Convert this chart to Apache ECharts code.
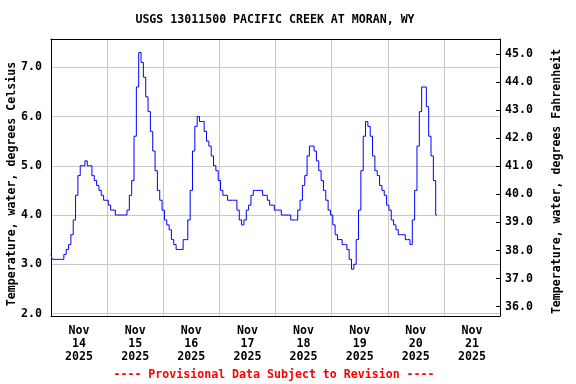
<!DOCTYPE html>
<html>
<head>
<meta charset="utf-8">
<script src="https://cdn.jsdelivr.net/npm/echarts@6/dist/echarts.min.js"></script>
<style>
  html, body { margin: 0; padding: 0; background: #fff; }
  #chart { width: 576px; height: 384px; }
</style>
</head>
<body>
<div id="chart"></div>
<script>
// ---- Data ----
const titleText = 'USGS 13011500 PACIFIC CREEK AT MORAN, WY';
const footerText = '---- Provisional Data Subject to Revision ----';
const leftAxisName = 'Temperature, water, degrees Celsius';
const rightAxisName = 'Temperature, water, degrees Fahrenheit';

const startTime = '2025-11-14T00:00:00Z';   // first reading
const endTime = '2025-11-22T00:00:00Z';     // x axis end
const stepHours = 1;                        // spacing of readings

// hourly water temperature, degrees Celsius
const tempC = [
  3.2, 3.1, 3.1, 3.1, 3.1, 3.1, 3.2, 3.3, 3.4, 3.6, 3.9, 4.4,
  4.8, 5.0, 5.0, 5.1, 5.0, 5.0, 4.8, 4.7, 4.6, 4.5, 4.4, 4.3,
  4.3, 4.2, 4.1, 4.1, 4.0, 4.0, 4.0, 4.0, 4.0, 4.1, 4.4, 4.7,
  5.6, 6.6, 7.3, 7.1, 6.8, 6.4, 6.1, 5.7, 5.3, 4.9, 4.5, 4.3,
  4.1, 3.9, 3.8, 3.7, 3.5, 3.4, 3.3, 3.3, 3.3, 3.5, 3.5, 3.9,
  4.5, 5.3, 5.8, 6.0, 5.9, 5.9, 5.7, 5.5, 5.4, 5.2, 5.0, 4.9,
  4.7, 4.5, 4.4, 4.4, 4.3, 4.3, 4.3, 4.3, 4.1, 3.9, 3.8, 3.9,
  4.1, 4.2, 4.4, 4.5, 4.5, 4.5, 4.5, 4.4, 4.4, 4.3, 4.2, 4.2,
  4.1, 4.1, 4.1, 4.0, 4.0, 4.0, 4.0, 3.9, 3.9, 3.9, 4.1, 4.3,
  4.6, 4.8, 5.2, 5.4, 5.4, 5.3, 5.1, 4.9, 4.7, 4.5, 4.3, 4.1,
  4.0, 3.8, 3.6, 3.5, 3.5, 3.4, 3.4, 3.3, 3.1, 2.9, 3.0, 3.5,
  4.1, 4.9, 5.6, 5.9, 5.8, 5.6, 5.2, 4.9, 4.8, 4.6, 4.5, 4.4,
  4.2, 4.1, 3.9, 3.8, 3.7, 3.6, 3.6, 3.6, 3.5, 3.5, 3.4, 3.9,
  4.5, 5.4, 6.1, 6.6, 6.6, 6.2, 5.6, 5.2, 4.7, 4.0
];

// tick labels
const xDayLabels = ['Nov\n14\n2025', 'Nov\n15\n2025', 'Nov\n16\n2025', 'Nov\n17\n2025',
                    'Nov\n18\n2025', 'Nov\n19\n2025', 'Nov\n20\n2025', 'Nov\n21\n2025'];
const celsiusTicks = [2, 3, 4, 5, 6, 7];
const fahrenheitTicks = [36, 37, 38, 39, 40, 41, 42, 43, 44, 45];

// axis extents
const celsiusRange = [1.949, 7.575];
const fahrenheitRange = [35.669, 45.534];

// ---- Build ----
const t0 = Date.parse(startTime);
const t1 = Date.parse(endTime);
const DAY = 86400000;
const seriesData = tempC.map((v, i) => [t0 + i * stepHours * 3600000, v]);

const FONT = '"DejaVu Sans Mono", "Liberation Mono", monospace';
const FS = 11.6;

function tickFormatter(list) {
  return function (v) {
    for (const t of list) if (Math.abs(v - t) < 1e-6) return t.toFixed(1);
    return '';
  };
}

const chart = echarts.init(document.getElementById('chart'), null, { renderer: 'canvas' });
chart.setOption({
  animation: false,
  backgroundColor: '#ffffff',
  grid: { left: 51, top: 39, right: 76, bottom: 68, containLabel: false },
  xAxis: [
    {
      type: 'value', min: t0, max: t1, interval: DAY,
      axisLine: { show: true, lineStyle: { color: '#000', width: 1 } },
      axisTick: { show: false },
      axisLabel: { show: false },
      splitLine: { show: true, lineStyle: { color: '#c8c8c8', width: 1 } }
    },
    {
      type: 'category', data: xDayLabels, boundaryGap: true, position: 'bottom',
      axisLine: { show: false }, axisTick: { show: false }, splitLine: { show: false },
      axisLabel: {
        interval: 0, margin: 8, color: '#000', fontFamily: FONT, fontSize: FS,
        fontWeight: 'bold', lineHeight: 13
      }
    },
    {
      type: 'value', min: t0, max: t1, position: 'top',
      axisLine: { show: true, onZero: false, lineStyle: { color: '#000', width: 1 } },
      axisTick: { show: false }, axisLabel: { show: false }, splitLine: { show: false }
    }
  ],
  yAxis: [
    {
      type: 'value', position: 'left', min: celsiusRange[0], max: celsiusRange[1],
      minInterval: 1, maxInterval: 1,
      axisLine: { show: true, onZero: false, lineStyle: { color: '#000', width: 1 } },
      axisTick: { show: false },
      axisLabel: {
        margin: 9, color: '#000', fontFamily: FONT, fontSize: FS, fontWeight: 'bold',
        formatter: tickFormatter(celsiusTicks), showMinLabel: false, showMaxLabel: false
      },
      splitLine: { show: true, lineStyle: { color: '#c8c8c8', width: 1 } }
    },
    {
      type: 'value', position: 'right', min: fahrenheitRange[0], max: fahrenheitRange[1],
      minInterval: 1, maxInterval: 1,
      axisLine: { show: true, onZero: false, lineStyle: { color: '#000', width: 1 } },
      axisTick: { show: true, inside: true, length: 4, lineStyle: { color: '#000' } },
      axisLabel: {
        margin: 5, color: '#000', fontFamily: FONT, fontSize: FS, fontWeight: 'bold',
        formatter: tickFormatter(fahrenheitTicks), showMinLabel: false, showMaxLabel: false
      },
      splitLine: { show: false }
    }
  ],
  graphic: [
    { type: 'text', x: 275, y: 20, style: { text: titleText, fill: '#000', font: 'bold ' + FS + 'px ' + FONT, textAlign: 'center', textVerticalAlign: 'middle' } },
    { type: 'text', x: 274, y: 375, style: { text: footerText, fill: '#ff0000', font: 'bold ' + FS + 'px ' + FONT, textAlign: 'center', textVerticalAlign: 'middle' } },
    { type: 'text', x: 12, y: 184, rotation: Math.PI / 2, style: { text: leftAxisName, fill: '#000', font: 'bold ' + FS + 'px ' + FONT, textAlign: 'center', textVerticalAlign: 'middle' } },
    { type: 'text', x: 557, y: 181.5, rotation: Math.PI / 2, style: { text: rightAxisName, fill: '#000', font: 'bold ' + FS + 'px ' + FONT, textAlign: 'center', textVerticalAlign: 'middle' } }
  ],
  series: [
    {
      type: 'line', xAxisIndex: 0, yAxisIndex: 0, data: seriesData,
      step: 'middle', showSymbol: false, symbol: 'none',
      lineStyle: { color: '#0000ff', width: 1 }
    }
  ]
});
</script>
</body>
</html>
